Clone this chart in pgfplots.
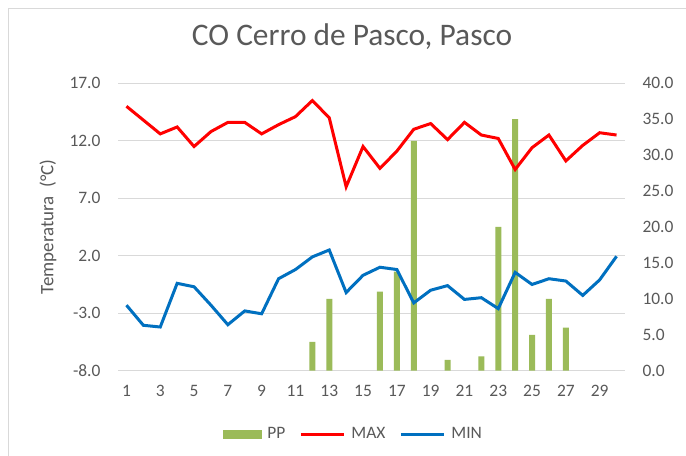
\documentclass[border=0pt]{standalone}
\usepackage{fontspec}
\setmainfont{Carlito}
\usepackage{pgfplots}
\pgfplotsset{compat=1.18}
\definecolor{txt}{HTML}{595959}
\definecolor{grd}{HTML}{D9D9D9}
\definecolor{ppg}{HTML}{9BBB59}
\definecolor{mxr}{HTML}{FF0000}
\definecolor{mnb}{HTML}{0070C0}
\pgfplotsset{
  base/.style={
    at={(118bp,85.3bp)}, anchor=south west, scale only axis,
    width=507bp, height=287.4bp, xmin=0.5, xmax=30.5,
    axis line style={draw=none}, major tick length=0pt,
    tick label style={font=\fontsize{17.5}{20}\selectfont, text=txt},
    /pgf/number format/assume math mode=true,
  }
}
\begin{document}
\begin{tikzpicture}
\path[use as bounding box] (0,0) rectangle (686bp,456bp);
\fill[white] (0,0) rectangle (686bp,456bp);
\draw[grd, line width=1bp] (8.5bp,0bp) -- (8.5bp,447.5bp) -- (686bp,447.5bp);
% axis 1: grid, left ticks, x ticks, title, label
\begin{axis}[base,
  ymin=-8, ymax=17, ytick={-8,-3,2,7,12,17},
  yticklabel style={/pgf/number format/.cd, fixed, fixed zerofill, precision=1, /tikz/.cd, xshift=-14bp},
  xtick={1,3,...,29},
  xticklabel style={yshift=-11bp},
  ymajorgrids, grid style={grd, line width=1bp},
  title={CO Cerro de Pasco, Pasco},
  title style={font=\fontsize{31.5}{34}\selectfont, text=txt, at={(axis description cs:0.4615,1.109)}, anchor=base},
  ylabel={Temperatura\ \ (°C)},
  ylabel style={font=\fontsize{19}{22}\selectfont, text=txt, at={(axis description cs:-0.138,0.5)}, anchor=center},
]
\addplot[draw=none, forget plot] coordinates {(1,0)};
\end{axis}
% axis 2: bars on right axis
\begin{axis}[base,
  ymin=0, ymax=40, ytick={0,5,...,40},
  axis y line*=right, hide x axis,
  yticklabel style={/pgf/number format/.cd, fixed, fixed zerofill, precision=1, /tikz/.cd, xshift=14bp},
]
\addplot[ybar, bar width=6bp, fill=ppg, draw=none] coordinates {
(12,4.0) (13,10.0) (16,11.0) (17,13.8) (18,32.0) (20,1.5) (22,2.0)
(23,20.0) (24,35.0) (25,5.0) (26,10.0) (27,6.0)
};
\end{axis}
% axis 3: lines + legend
\begin{axis}[base,
  ymin=-8, ymax=17, hide axis,
  legend columns=3,
  legend style={draw=none, fill=none, font=\fontsize{17.5}{20}\selectfont, text=txt,
    at={(axis description cs:0.4645,-0.2203)}, anchor=center,
    /tikz/every odd column/.append style={column sep=4bp},
    /tikz/every even column/.append style={column sep=12bp}},
]
\addlegendimage{legend image code/.code={\fill[ppg] (0bp,-4bp) rectangle (38bp,4bp);}}
\addlegendentry{PP}
\addplot[mxr, line width=3bp, legend image code/.code={\draw (0bp,0bp) -- (43bp,0bp);}] coordinates {
(1,15.0) (2,13.8) (3,12.6) (4,13.2) (5,11.5) (6,12.8) (7,13.6) (8,13.6) (9,12.6) (10,13.4)
(11,14.1) (12,15.5) (13,14.0) (14,8.0) (15,11.5) (16,9.6) (17,11.1) (18,13.0) (19,13.5) (20,12.1)
(21,13.6) (22,12.5) (23,12.2) (24,9.5) (25,11.4) (26,12.5) (27,10.25) (28,11.6) (29,12.7) (30,12.5)
};
\addlegendentry{MAX}
\addplot[mnb, line width=3bp, legend image code/.code={\draw (0bp,0bp) -- (43bp,0bp);}] coordinates {
(1,-2.3) (2,-4.05) (3,-4.2) (4,-0.4) (5,-0.7) (6,-2.3) (7,-4.0) (8,-2.8) (9,-3.05) (10,0.0)
(11,0.8) (12,1.9) (13,2.5) (14,-1.2) (15,0.3) (16,1.0) (17,0.8) (18,-2.1) (19,-1.0) (20,-0.6)
(21,-1.8) (22,-1.65) (23,-2.6) (24,0.55) (25,-0.5) (26,0.0) (27,-0.2) (28,-1.45) (29,-0.1) (30,1.95)
};
\addlegendentry{MIN}
\end{axis}
\end{tikzpicture}
\end{document}
